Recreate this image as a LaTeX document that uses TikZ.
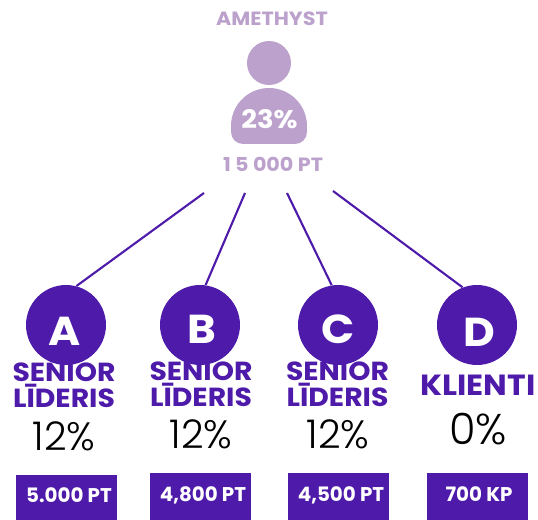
\documentclass[tikz,border=0pt]{standalone}
\usepackage{fontspec}
\setmainfont{Poppins}
\newfontfamily\widefont[FakeStretch=1.08]{Poppins}
\newfontfamily\thinfont{Poppins Light}
\definecolor{deeppurple}{HTML}{4E1AAA}
\definecolor{lilac}{HTML}{BBA1CB}
\tikzset{
  member circle/.style={circle, fill=deeppurple, minimum size=1.6cm, inner sep=0},
  member letter/.style={text=white, inner sep=0, anchor=base, font=\widefont\bfseries\fontsize{23}{24}\selectfont},
  rank label/.style={text=deeppurple, align=center, inner sep=0, font=\widefont\bfseries\fontsize{14.9}{14.6}\selectfont},
  share label/.style={inner sep=0, anchor=base, font=\thinfont\fontsize{22.5}{24}\selectfont},
  points box/.style={fill=deeppurple, minimum width=2.02cm, anchor=north, inner sep=0},
  points label/.style={text=white, inner sep=0, anchor=base, font=\bfseries\fontsize{11.3}{12}\selectfont},
  top label/.style={text=lilac, inner sep=0, anchor=base, font=\widefont\bfseries\fontsize{10.9}{11}\selectfont},
  link/.style={draw=deeppurple, line width=1.2pt}
}
\begin{document}
\begin{tikzpicture}[x=0.02cm, y=-0.02cm]
\useasboundingbox (0,0) rectangle (538,520);

\node[top label] (amethyst label) at (272,26) {AMETHYST};
\node[circle, fill=lilac, minimum size=0.88cm, inner sep=0] (head) at (269,63) {};
\fill[lilac] (231,126) arc[start angle=180, end angle=0, radius=0.76cm] -- (307,132) arc[start angle=0, end angle=-90, radius=0.24cm] -- (243,144) arc[start angle=-90, end angle=-180, radius=0.24cm] -- cycle;
\node[text=white, inner sep=0, anchor=base, font=\widefont\bfseries\fontsize{14.5}{15}\selectfont] (share top) at (269.5,129) {23\%};
\node[top label] (points top) at (273,172) {1 5 000 PT};

\coordinate (from a) at (204,193);
\coordinate (from b) at (245,193);
\coordinate (from c) at (287,193);
\coordinate (from d) at (333,191);

\node[member circle] (circle a) at (66,325) {};
\node[member circle] (circle b) at (200,325) {};
\node[member circle] (circle c) at (338,325) {};
\node[member circle] (circle d) at (477,325) {};

\node[member letter] (letter a) at (65,346) {A};
\node[member letter] (letter b) at (202,344) {B};
\node[member letter] (letter c) at (338,344) {C};
\node[member letter] (letter d) at (479,347) {D};

\draw[link] (from a) -- (circle a.75);
\draw[link] (from b) -- (circle b.82);
\draw[link] (from c) -- (circle c.99);
\draw[link] (from d) -- (circle d.111);

\node[rank label] (rank a) at (64,385) {SENIOR\\L\=IDERIS};
\node[rank label] (rank b) at (201,384) {SENIOR\\L\=IDERIS};
\node[rank label] (rank c) at (337.5,384) {SENIOR\\L\=IDERIS};
\node[rank label, font=\widefont\bfseries\fontsize{16.6}{17}\selectfont] (rank d) at (478,385) {KLIENTI};

\node[share label] (share a) at (64,451) {12\%};
\node[share label] (share b) at (201,449) {12\%};
\node[share label] (share c) at (338,449) {12\%};
\node[share label, font=\thinfont\fontsize{24.5}{26}\selectfont] (share d) at (478,444) {0\%};

\node[points box, minimum height=0.9cm] (box a) at (66.5,475) {};
\node[points box, minimum height=0.94cm] (box b) at (200.5,473) {};
\node[points box, minimum height=0.94cm] (box c) at (338.5,473) {};
\node[points box, minimum height=0.94cm] (box d) at (477.5,473) {};

\node[points label] (points a) at (69,502) {5.000 PT};
\node[points label] (points b) at (203,501) {4,800 PT};
\node[points label] (points c) at (341,501) {4,500 PT};
\node[points label] (points d) at (479,501) {700 KP};
\end{tikzpicture}
\end{document}
